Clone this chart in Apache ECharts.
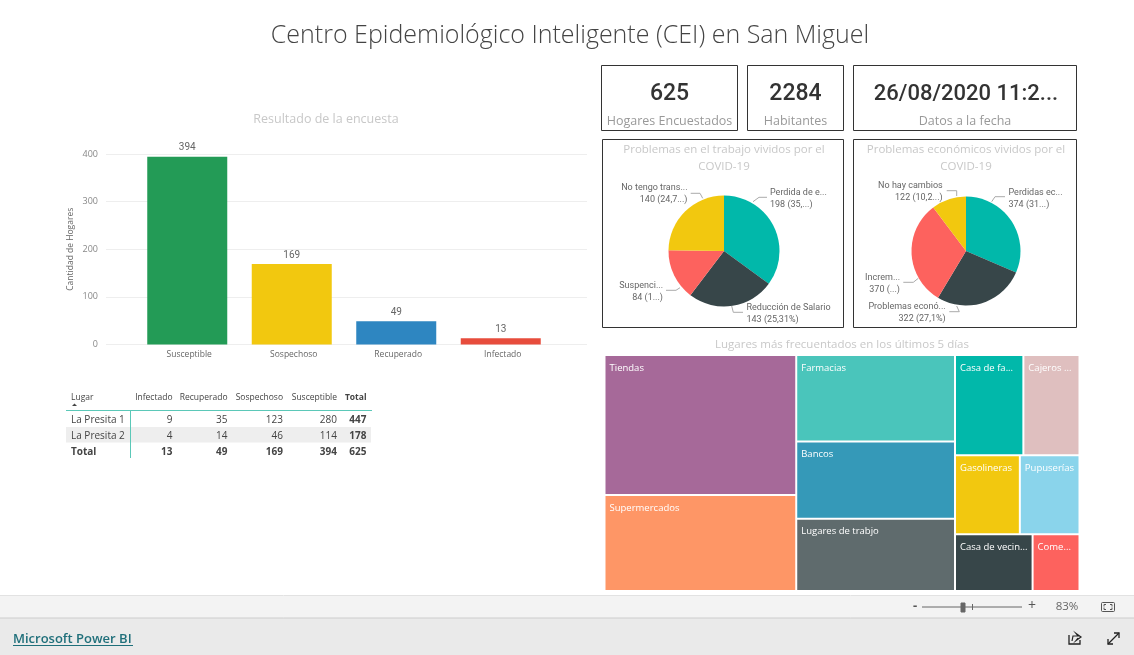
<!DOCTYPE html>
<html><head><meta charset="utf-8">
<style>html,body{margin:0;padding:0;background:#fff;overflow:hidden}#c{width:1134px;height:655px}</style>
<script src="https://cdn.jsdelivr.net/npm/echarts@6/dist/echarts.min.js"></script>
</head><body><div id="c"></div>
<script>
const barCategories=['Susceptible','Sospechoso','Recuperado','Infectado'];
const barValues=[394,169,49,13];
const barColors=['#239B56','#F2C80F','#2E86C1','#E74C3C'];
const yTicks=[0,100,200,300,400];

const pie1Names=['Perdida de e...','Reducción de Salario','Suspenci...','No tengo trans...'];
const pie1Values=[198,143,84,140];
const pie1Pct=['(35,...)','(25,31%)','(1...)','(24,7...)'];
const pie2Names=['Perdidas ec...','Problemas econó...','Increm...','No hay cambios'];
const pie2Values=[374,322,370,122];
const pie2Pct=['(31...)','(27,1%)','(...)','(10,2...)'];
const pieColors=['#01B8AA','#374649','#FD625E','#F2C80F'];

const treeNames=['Tiendas','Supermercados','Farmacias','Bancos','Lugares de trabjo','Casa de fa...','Cajeros ...','Gasolineras','Pupuserías','Casa de vecin...','Come...'];
const treeValues=[262,180,134,120,112,67,55,50,46,43,26];
const treeColors=['#A66999','#FE9666','#4AC5BB','#3599B8','#5F6B6D','#01B8AA','#DFBFBF','#F2C80F','#8AD4EB','#374649','#FD625E'];

const tableHead=['Infectado','Recuperado','Sospechoso','Susceptible','Total'];
const tableRows=[['La Presita 1',9,35,123,280,447],['La Presita 2',4,14,46,114,178],['Total',13,49,169,394,625]];

const kpis=[['625','Hogares Encuestados',601.5,65.5,136,65],['2284','Habitantes',747.5,65.5,96,65],['26/08/2020 11:2...','Datos a la fecha',853.5,65.5,223,65]];

const UI='"Open Sans",sans-serif', NUM='"Roboto","Noto Sans",sans-serif';
const g=[];
function T(x,y,text,o){g.push({type:'text',x,y:y+1.5,z:5,silent:true,style:Object.assign({text,fill:'#666',font:'10px '+UI,align:'left',verticalAlign:'middle'},o||{})});}
function R(x,y,w,h,fill,stroke,z){g.push({type:'rect',z:z==null?1:z,silent:true,shape:{x,y,width:w,height:h},style:{fill:fill||'none',stroke:stroke||'none',lineWidth:1}});}
function L(a,b,c,d,col,w){g.push({type:'line',z:5,silent:true,shape:{x1:a,y1:b,x2:c,y2:d},style:{stroke:col,lineWidth:w||1}});}
function P(points,col,w){g.push({type:'polyline',z:5,silent:true,shape:{points},style:{fill:'none',stroke:col,lineWidth:w||1}});}

T(570,34,'Centro Epidemiológico Inteligente (CEI) en San Miguel',{font:'300 25px "Open Sans",sans-serif',fill:'#444',align:'center'});
T(326,118,'Resultado de la encuesta',{font:'12.5px '+UI,fill:'#C8C8C8',align:'center'});

kpis.forEach((k,i)=>{R(k[2],k[3],k[4],k[5],'#fff','#333');
  T(k[2]+k[4]/2+(i==2?1:0),92.5,k[0],{font:(i==2?'500 22px ':'500 23px ')+NUM,fill:'#333',align:'center'});
  T(k[2]+k[4]/2,119.5,k[1],{font:'12.5px '+UI,fill:'#999',align:'center'});});

R(602.5,139.5,241,188,'#fff','#333');R(853.5,139.5,223,188,'#fff','#333');
const subT={font:'11.5px '+UI,fill:'#C8C8C8',align:'center'};
T(724,148.5,'Problemas en el trabajo vividos por el',subT);
T(724,165,'COVID-19',subT);
T(966,148.5,'Problemas económicos vividos por el',subT);
T(966,165,'COVID-19',subT);
T(842,343,'Lugares más frecuentados en los últimos 5 días',subT);

// table
const colRight=[172.5,227.5,283,337,366.5];
T(71,396.5,'Lugar',{font:'8.5px '+UI,fill:'#444'});
g.push({type:'polygon',z:5,silent:true,shape:{points:[[72,406],[77,406],[74.5,403.5]]},style:{fill:'#444'}});
tableHead.forEach((h,i)=>T(colRight[i],396.5,h,{font:(i==4?'bold ':'')+'8.5px '+UI,fill:'#444',align:'right'}));
R(66,427,305,15.5,'#EEEEEE');
tableRows.forEach((r,ri)=>{const y=418.5+ri*16;const bold=ri==2;
  T(71,y,r[0],{font:(bold?'bold ':'')+'10px '+UI,fill:'#444'});
  r.slice(1).forEach((v,i)=>T(colRight[i],y,String(v),{font:(bold||i==4?'bold ':'')+'10px '+UI,fill:'#444',align:'right'}));});
L(66,410.5,372,410.5,'#5BC8B8');L(130.5,411,130.5,458,'#5BC8B8');

// chrome bars
R(0,596,1134,22,'#F3F3F3');R(0,618,1134,37,'#EAEAEA');
L(0,595.5,1134,595.5,'#E2E2E2');L(0,618,1134,618,'#CCCCCC');
T(915,605,'-',{font:'bold 13px '+UI,fill:'#555',align:'center'});
L(922,607,1022,607,'#666');
R(961,603,4,9,'#666','#666',6);L(972.5,604,972.5,610,'#666');
T(1032,605,'+',{font:'14px '+UI,fill:'#555',align:'center'});
T(1067,605,'83%',{font:'11.5px '+UI,fill:'#666',align:'center'});
g.push({type:'rect',z:5,silent:true,shape:{x:1101.5,y:602.5,width:13,height:9,r:1},style:{fill:'none',stroke:'#555'}});
P([[1104,606.5],[1104,604.5],[1106,604.5]],'#555');P([[1110,604.5],[1112,604.5],[1112,606.5]],'#555');
P([[1104,607.5],[1104,609.5],[1106,609.5]],'#555');P([[1110,609.5],[1112,609.5],[1112,607.5]],'#555');
T(13,637.5,'Microsoft Power BI',{font:'600 13px '+UI,fill:'#1F6F7A'});
L(13,645.5,133,645.5,'#1F6F7A');
P([[1069,635],[1069,644],[1080,644],[1080,640]],'#222',1.3);
P([[1072,641],[1073,636],[1078,636],[1076,633.5],[1081,637],[1076,640.5],[1078,638]],'#222',1.2);
L(1108,644,1119,633,'#222',1.3);
P([[1114,633],[1119,633],[1119,638]],'#222',1.3);
P([[1108,639],[1108,644],[1113,644]],'#222',1.3);

// label placement: anchor x, centre y, alignment, then the leader's three points
const pie1Label=[
 [770,199,'left',[[753,201.7],[759,197.3],[767,197.3]]],
 [746.5,313.5,'left',[[731.7,306],[733.3,312.3],[743,312.3]]],
 [663,291.5,'right',[[680,287.7],[676,290.3],[666,290.3]]],
 [687.5,194,'right',[[702.7,198.3],[700,193.3],[690.7,193.3]]]];
const pie2Label=[
 [1008.5,198.5,'left',[[991.7,201.7],[995,196.7],[1005,196.7]]],
 [945.7,313,'right',[[956.7,306],[959.3,311.7],[949.3,311.7]]],
 [900,284,'right',[[918.3,278.3],[913.3,282.3],[903.3,282.3]]],
 [942.7,192,'right',[[956.7,196],[956.7,190.7],[946.7,190.7]]]];
function pie(names,values,pct,center,radius,lay){
  return {type:'pie',z:3,center,radius,startAngle:90,clockwise:true,animation:false,silent:true,
    data:values.map((v,i)=>({value:v,name:names[i],itemStyle:{color:pieColors[i]},
      label:{formatter:names[i]+'\n'+v+' '+pct[i],align:lay[i][2]}})),
    label:{show:true,fontFamily:NUM,fontSize:9,color:'#666',lineHeight:12},
    labelLine:{show:true,length:8,length2:10,lineStyle:{color:'#AAA',width:1}},
    labelLayout:p=>{const l=lay[p.dataIndex];return {x:l[0],y:l[1],align:l[2],verticalAlign:'middle',labelLinePoints:l[3]};}
  };
}
const option={
  animation:false,backgroundColor:'#fff',graphic:{elements:g},
  grid:[{left:106,width:481,top:154,height:190.5},{left:135,width:418,top:154,height:190.5}],
  xAxis:[{gridIndex:0,type:'value',show:false,min:0,max:1},
    {gridIndex:1,type:'category',data:barCategories,axisLine:{show:false},axisTick:{show:false},axisLabel:{fontFamily:UI,fontSize:8.5,color:'#666',margin:6,padding:[0,0,0,4]}}],
  yAxis:[{gridIndex:0,type:'value',min:yTicks[0],max:yTicks[yTicks.length-1],interval:100,axisLine:{show:false},axisTick:{show:false},
      axisLabel:{fontFamily:UI,fontSize:9,color:'#888',margin:8},splitLine:{lineStyle:{color:'#EEEEEE',width:1}},
      name:'Cantidad de Hogares',nameLocation:'middle',nameGap:31,nameTextStyle:{fontFamily:UI,fontSize:8.5,color:'#666'}},
    {gridIndex:1,type:'value',min:0,max:400,interval:100,show:false}],
  series:[
    {type:'bar',xAxisIndex:1,yAxisIndex:1,barWidth:80,silent:true,
     data:barValues.map((v,i)=>({value:v,itemStyle:{color:barColors[i]}})),
     label:{show:true,position:'top',distance:4,fontFamily:NUM,fontSize:10,color:'#666'}},
    pie(pie1Names,pie1Values,pie1Pct,[724,251],55.5,pie1Label),
    pie(pie2Names,pie2Values,pie2Pct,[966,251],54.5,pie2Label),
    {type:'treemap',left:605.5,top:356,width:473,height:234,roam:false,nodeClick:false,silent:true,breadcrumb:{show:false},
     squareRatio:1.618,
     itemStyle:{borderWidth:0,gapWidth:2,borderColor:'#fff'},
     label:{show:true,position:'insideTopLeft',distance:4,padding:[3,0,0,0],fontFamily:UI,fontSize:9.5,color:'#fff',overflow:'none'},
     levels:[{itemStyle:{gapWidth:2,borderWidth:0}}],
     data:treeNames.map((n,i)=>({name:n,value:treeValues[i],itemStyle:{color:treeColors[i]}}))}
  ]
};
echarts.init(document.getElementById('c'),null,{renderer:'canvas'}).setOption(option);
</script></body></html>
